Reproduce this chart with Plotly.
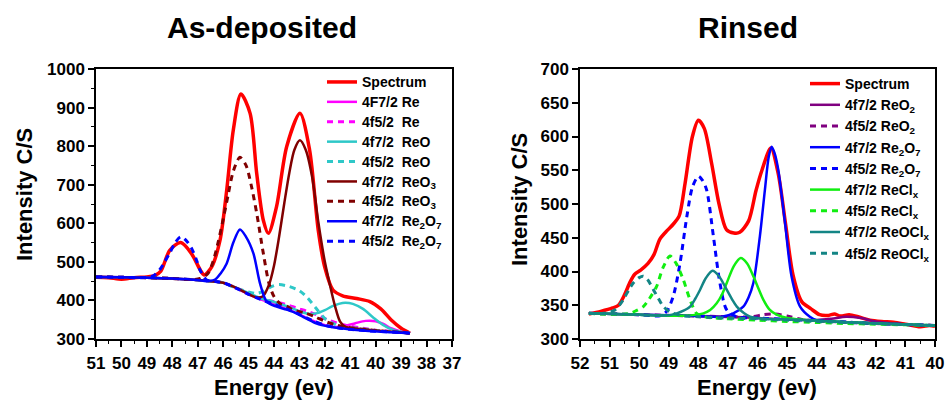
import plotly.graph_objects as go

# ---------------- As-deposited (left) ----------------
L_spec_E = [51.0, 50.5, 50.0, 49.5, 49.0, 48.7, 48.45, 48.1, 47.67, 47.25, 46.9, 46.75, 46.45, 46.12, 45.86, 45.6, 45.3, 44.94, 44.68, 44.42, 44.22, 43.9, 43.5, 42.98, 42.6, 42.26, 42.0, 41.68, 41.3, 40.75, 40.23, 39.8, 39.4, 39.0, 38.65]
L_spec_V = [460, 459, 455, 459, 461, 464, 476, 530, 550, 522, 479, 466, 487, 557, 686, 842, 935, 885, 729, 608, 574, 643, 799, 885, 790, 582, 485, 427, 412, 405, 397, 378, 350, 328, 315]

L_re7_E = [51, 50, 49, 48, 47, 46.5, 46, 45.5, 45, 44.5, 44, 43.5, 43, 42.5, 42, 41.6, 41.2, 40.8, 40.4, 40.0, 39.7, 39.4, 39.0, 38.65]
L_re7_V = [461, 460, 459, 457, 453, 450, 446, 432, 416, 402, 390, 378, 364, 348, 336, 331, 334, 341, 347, 346, 339, 328, 319, 315]

L_re5_E = [51, 50, 49, 48, 47, 46.5, 46, 45.5, 45, 44.5, 44, 43.5, 43.1, 42.7, 42.3, 41.9, 41.5, 41, 40.5, 40, 39.2, 38.65]
L_re5_V = [461, 460, 459, 457, 453, 450, 446, 433, 419, 404, 397, 389, 380, 372, 362, 350, 341, 333, 328, 323, 319, 315]

L_reo7_E = [51, 50, 49, 48, 47, 46.5, 46, 45.5, 45, 44.5, 44, 43.5, 43, 42.6, 42.3, 42.0, 41.7, 41.45, 41.2, 40.9, 40.5, 40.1, 39.7, 39.3, 38.65]
L_reo7_V = [461, 460, 459, 457, 453, 450, 446, 433, 419, 405, 396, 385, 372, 365, 367, 375, 385, 391, 394, 391, 378, 356, 336, 323, 315]

L_reo5_E = [51, 50, 49, 48, 47, 46.5, 46, 45.5, 45, 44.7, 44.4, 44.1, 43.8, 43.4, 43.0, 42.7, 42.3, 41.95, 41.6, 41.2, 40.5, 39.8, 39.0, 38.65]
L_reo5_V = [461, 460, 459, 457, 453, 450, 446, 432, 422, 418, 424, 436, 441, 436, 425, 408, 376, 350, 338, 331, 326, 321, 317, 315]

L_reo3_7_E = [51, 50, 49, 48, 47, 46.5, 46, 45.5, 45.0, 44.7, 44.45, 44.2, 44.0, 43.8, 43.6, 43.4, 43.2, 42.98, 42.75, 42.5, 42.25, 42.0, 41.8, 41.6, 41.4, 41.2, 40.8, 40.0, 39.0, 38.65]
L_reo3_7_V = [461, 460, 459, 457, 453, 450, 446, 433, 416, 408, 410, 440, 490, 565, 650, 730, 790, 815, 790, 720, 600, 500, 440, 385, 345, 332, 327, 322, 317, 315]

L_reo3_5_E = [51, 50, 49, 48, 47.2, 46.9, 46.6, 46.4, 46.2, 46.0, 45.8, 45.6, 45.34, 45.1, 44.9, 44.68, 44.42, 44.2, 44.0, 43.77, 43.5, 43.24, 42.8, 42.4, 42.0, 41.5, 41.0, 40.0, 39.0, 38.65]
L_reo3_5_V = [461, 460, 459, 457, 454, 457, 470, 500, 550, 610, 675, 735, 771, 750, 700, 626, 522, 445, 410, 392, 385, 375, 368, 358, 346, 335, 329, 322, 317, 315]

L_re2o7_7_E = [51, 50, 49, 48, 47, 46.65, 46.3, 46.1, 45.86, 45.6, 45.34, 45.1, 44.81, 44.55, 44.29, 43.9, 43.5, 43.1, 42.7, 42.32, 41.8, 41.4, 40.5, 39.8, 39.0, 38.65]
L_re2o7_7_V = [461, 460, 459, 457, 453, 450, 455, 470, 496, 550, 584, 565, 522, 444, 397, 384, 376, 366, 352, 340, 332, 328, 322, 319, 316, 315]

L_re2o7_5_E = [51, 50, 49.3, 49.0, 48.74, 48.48, 48.3, 48.09, 47.9, 47.67, 47.45, 47.24, 47.05, 46.91, 46.65, 46.3, 46, 45.5, 45, 44.5, 44, 43.5, 43, 42.5, 42, 41.5, 41, 40, 39, 38.65]
L_re2o7_5_V = [461, 460, 459, 460, 464, 481, 500, 524, 548, 565, 555, 535, 505, 479, 453, 449, 446, 432, 416, 402, 390, 378, 364, 348, 336, 329, 325, 320, 317, 315]

# ---------------- Rinsed (right) ----------------
R_spec_E = [51.7, 51.3, 50.9, 50.7, 50.5, 50.3, 50.15, 49.95, 49.7, 49.5, 49.3, 49.05, 48.85, 48.65, 48.45, 48.2, 48.0, 47.8, 47.55, 47.3, 47.05, 46.8, 46.6, 46.3, 46.05, 45.85, 45.55, 45.3, 45.05, 44.8, 44.5, 44.2, 43.9, 43.6, 43.4, 43.2, 42.9, 42.6, 42.2, 41.8, 41.4, 41.0, 40.5, 40.2, 40.0]
R_spec_V = [337, 341, 346, 350, 365, 385, 396, 402, 412, 425, 448, 461, 470, 482, 530, 600, 624, 612, 560, 500, 462, 457, 458, 475, 520, 550, 583, 545, 470, 395, 355, 345, 336, 335, 337, 334, 336, 333, 328, 326, 325, 322, 318, 320, 319]

R_reo2_7_E = [51.7, 50, 48, 47, 46, 45, 44, 43.5, 43, 42.5, 42, 41, 40]
R_reo2_7_V = [338, 336, 334, 333, 331, 329, 328, 330, 333, 331, 326, 321.5, 320]

R_reo2_5_E = [51.7, 50, 48, 47, 46.2, 45.8, 45.4, 45, 44.5, 44, 43, 42, 41, 40]
R_reo2_5_V = [338, 336, 334, 333, 333, 336, 337, 334, 329, 327, 325, 323, 321.5, 320]

R_re2o7_7_E = [51.7, 50, 48, 47.2, 46.82, 46.48, 46.3, 46.14, 45.92, 45.75, 45.62, 45.52, 45.42, 45.3, 45.07, 44.85, 44.56, 44.23, 44, 43, 42, 41, 40]
R_re2o7_7_V = [338, 336, 334, 333, 338, 348, 362, 383, 452, 521, 570, 585, 575, 551, 472, 393, 348, 333, 328, 325, 323, 321.5, 320]

R_re2o7_5_E = [51.7, 50, 49.3, 49.07, 48.85, 48.62, 48.39, 48.2, 48.0, 47.86, 47.72, 47.49, 47.27, 47.04, 46.7, 46, 45, 44, 43, 42, 41, 40]
R_re2o7_5_V = [338, 336, 334.5, 341, 363, 412, 481, 525, 541, 535, 521, 452, 383, 343, 333, 331, 329, 327, 325, 323, 321.5, 320]

R_recl_7_E = [51.7, 50, 48.5, 47.83, 47.6, 47.38, 47.2, 47.04, 46.8, 46.57, 46.35, 46.14, 45.95, 45.8, 45.6, 45.35, 45.0, 44, 43, 42, 41, 40]
R_recl_7_V = [338, 336, 334.5, 338, 343, 353, 366, 383, 408, 420, 412, 393, 373, 358, 344, 336, 331, 327, 325, 323, 321.5, 320]

R_recl_5_E = [51.7, 50.8, 50.31, 50.1, 49.86, 49.65, 49.41, 49.2, 48.96, 48.75, 48.51, 48.28, 48.06, 47.8, 47, 46, 45, 44, 43, 42, 41, 40]
R_recl_5_V = [338, 336.5, 338, 342, 348, 360, 378, 405, 423, 412, 388, 358, 338, 333, 330, 328, 326, 324.5, 323, 322, 321, 320]

R_reocl_7_E = [51.7, 50, 49, 48.73, 48.5, 48.28, 48.1, 47.94, 47.75, 47.52, 47.3, 47.04, 46.85, 46.7, 46.45, 46.25, 45.8, 45, 44, 43, 42, 41, 40]
R_reocl_7_V = [338, 336, 335, 338, 342, 348, 360, 373, 390, 401, 393, 373, 358, 348, 338, 333, 330, 329, 327, 325, 323, 321.5, 320]

R_reocl_5_E = [51.7, 51.2, 50.82, 50.54, 50.35, 50.2, 50.0, 49.86, 49.7, 49.52, 49.35, 49.18, 48.95, 48.6, 48, 47, 46, 45, 44, 43, 42, 41, 40]
R_reocl_5_V = [338, 338, 343, 358, 373, 383, 391, 393, 387, 373, 360, 348, 340, 335, 333, 331, 330, 328, 326, 324.5, 323, 321.5, 320]

SP = "\u00a0"
L_names = ["Spectrum", "4F7/2 Re", "4f5/2" + SP + SP + "Re", "4f7/2" + SP + SP + "ReO", "4f5/2" + SP + SP + "ReO",
           "4f7/2" + SP + SP + "ReO<sub>3</sub>", "4f5/2" + SP + SP + "ReO<sub>3</sub>",
           "4f7/2" + SP + SP + "Re<sub>2</sub>O<sub>7</sub>", "4f5/2" + SP + SP + "Re<sub>2</sub>O<sub>7</sub>"]
R_names = ["Spectrum", "4f7/2 ReO<sub>2</sub>", "4f5/2 ReO<sub>2</sub>", "4f7/2 Re<sub>2</sub>O<sub>7</sub>",
           "4f5/2 Re<sub>2</sub>O<sub>7</sub>", "4f7/2 ReCl<sub>x</sub>", "4f5/2 ReCl<sub>x</sub>",
           "4f7/2 ReOCl<sub>x</sub>", "4f5/2 ReOCl<sub>x</sub>"]

RED = "#FF0000"; MAG = "#FF00FF"; CYAN = "#2EC8C8"; DRED = "#800000"; BLUE = "#0000FF"
PURP = "#800080"; GRN = "#11EE11"; TEAL = "#138585"
DASH = "6px,5px"

left = [
    (L_spec_E, L_spec_V, RED, "solid", 3.5),
    (L_re7_E, L_re7_V, MAG, "solid", 2.5),
    (L_re5_E, L_re5_V, MAG, DASH, 3),
    (L_reo7_E, L_reo7_V, CYAN, "solid", 2.5),
    (L_reo5_E, L_reo5_V, CYAN, DASH, 3),
    (L_reo3_7_E, L_reo3_7_V, DRED, "solid", 2.5),
    (L_reo3_5_E, L_reo3_5_V, DRED, DASH, 3),
    (L_re2o7_7_E, L_re2o7_7_V, BLUE, "solid", 2.5),
    (L_re2o7_5_E, L_re2o7_5_V, BLUE, DASH, 3),
]
right = [
    (R_spec_E, R_spec_V, RED, "solid", 3.5),
    (R_reo2_7_E, R_reo2_7_V, PURP, "solid", 2.5),
    (R_reo2_5_E, R_reo2_5_V, PURP, DASH, 3),
    (R_re2o7_7_E, R_re2o7_7_V, BLUE, "solid", 2.5),
    (R_re2o7_5_E, R_re2o7_5_V, BLUE, DASH, 3),
    (R_recl_7_E, R_recl_7_V, GRN, "solid", 2.5),
    (R_recl_5_E, R_recl_5_V, GRN, DASH, 3),
    (R_reocl_7_E, R_reocl_7_V, TEAL, "solid", 2.5),
    (R_reocl_5_E, R_reocl_5_V, TEAL, DASH, 3),
]

fig = go.Figure()
for (x, y, c, d, w), n in zip(left, L_names):
    fig.add_trace(go.Scatter(x=x, y=y, name='<span style="font-size:14px">' + n + '</span>', mode="lines",
                             xaxis="x", yaxis="y",
                             line=dict(color=c, dash=d, width=w, shape="spline", smoothing=0.8),
                             legend="legend"))
for (x, y, c, d, w), n in zip(right, R_names):
    fig.add_trace(go.Scatter(x=x, y=y, name=n, mode="lines", xaxis="x2", yaxis="y2",
                             line=dict(color=c, dash=d, width=w, shape="spline", smoothing=0.8),
                             legend="legend2"))

W, H = 945, 400
FONT = "Liberation Sans, Arial, sans-serif"
tickfont = dict(family=FONT, size=17, color="black", weight="bold")
ax_common = dict(showline=True, linecolor="black", linewidth=1.5, mirror=True, ticks="outside",
                 ticklen=6, tickwidth=1.5, tickcolor="black", showgrid=False, zeroline=False,
                 tickfont=tickfont, automargin=False)
ydom = [(H - 339) / H, (H - 69) / H]

fig.update_layout(
    width=W, height=H, margin=dict(l=0, r=0, t=0, b=0, autoexpand=False),
    paper_bgcolor="white", plot_bgcolor="white",
    xaxis=dict(domain=[96 / W, 452 / W], range=[51, 37], tick0=37, dtick=1, anchor="y",
               minor=dict(dtick=0.5, ticks="outside", ticklen=3, tickcolor="black", tickwidth=1.2),
               ticklabelstandoff=2, **ax_common),
    yaxis=dict(domain=ydom, range=[300, 1000], dtick=100, anchor="x",
               minor=dict(dtick=50, ticks="outside", ticklen=3, tickcolor="black", tickwidth=1.2),
               **ax_common),
    xaxis2=dict(domain=[580 / W, 935 / W], range=[52, 40], tick0=40, dtick=1, anchor="y2",
                minor=dict(dtick=0.5, ticks="outside", ticklen=3, tickcolor="black", tickwidth=1.2),
                ticklabelstandoff=2, **ax_common),
    yaxis2=dict(domain=ydom, range=[300, 700], dtick=50, anchor="x2", **ax_common),
    legend=dict(x=322 / W, y=(H - 67) / H, xanchor="left", yanchor="top", bgcolor="rgba(0,0,0,0)",
                font=dict(family=FONT, size=13, color="black", weight="bold"), borderwidth=0,
                itemwidth=30, tracegroupgap=0),
    legend2=dict(x=805 / W, y=(H - 68) / H, xanchor="left", yanchor="top", bgcolor="rgba(0,0,0,0)",
                 font=dict(family=FONT, size=14, color="black", weight="bold"), borderwidth=0,
                 itemwidth=30, tracegroupgap=0),
    showlegend=True,
)

ann_font_title = dict(family=FONT, size=30, color="black", weight="bold")
ann_font_axis = dict(family=FONT, size=22, color="black", weight="bold")
fig.add_annotation(text="As-deposited", x=262 / W, y=(H - 27) / H, xref="paper", yref="paper",
                   showarrow=False, font=ann_font_title, xanchor="center", yanchor="middle")
fig.add_annotation(text="Rinsed", x=748 / W, y=(H - 27) / H, xref="paper", yref="paper",
                   showarrow=False, font=ann_font_title, xanchor="center", yanchor="middle")
fig.add_annotation(text="Energy (ev)", x=274 / W, y=(H - 387) / H, xref="paper", yref="paper",
                   showarrow=False, font=ann_font_axis, xanchor="center", yanchor="middle")
fig.add_annotation(text="Energy (ev)", x=757 / W, y=(H - 387) / H, xref="paper", yref="paper",
                   showarrow=False, font=ann_font_axis, xanchor="center", yanchor="middle")
fig.add_annotation(text="Intensity C/S", x=24 / W, y=(H - 195) / H, xref="paper", yref="paper",
                   showarrow=False, font=ann_font_axis, textangle=-90, xanchor="center", yanchor="middle")
fig.add_annotation(text="Intensity C/S", x=519 / W, y=(H - 200) / H, xref="paper", yref="paper",
                   showarrow=False, font=ann_font_axis, textangle=-90, xanchor="center", yanchor="middle")

fig.write_html("out.html")
